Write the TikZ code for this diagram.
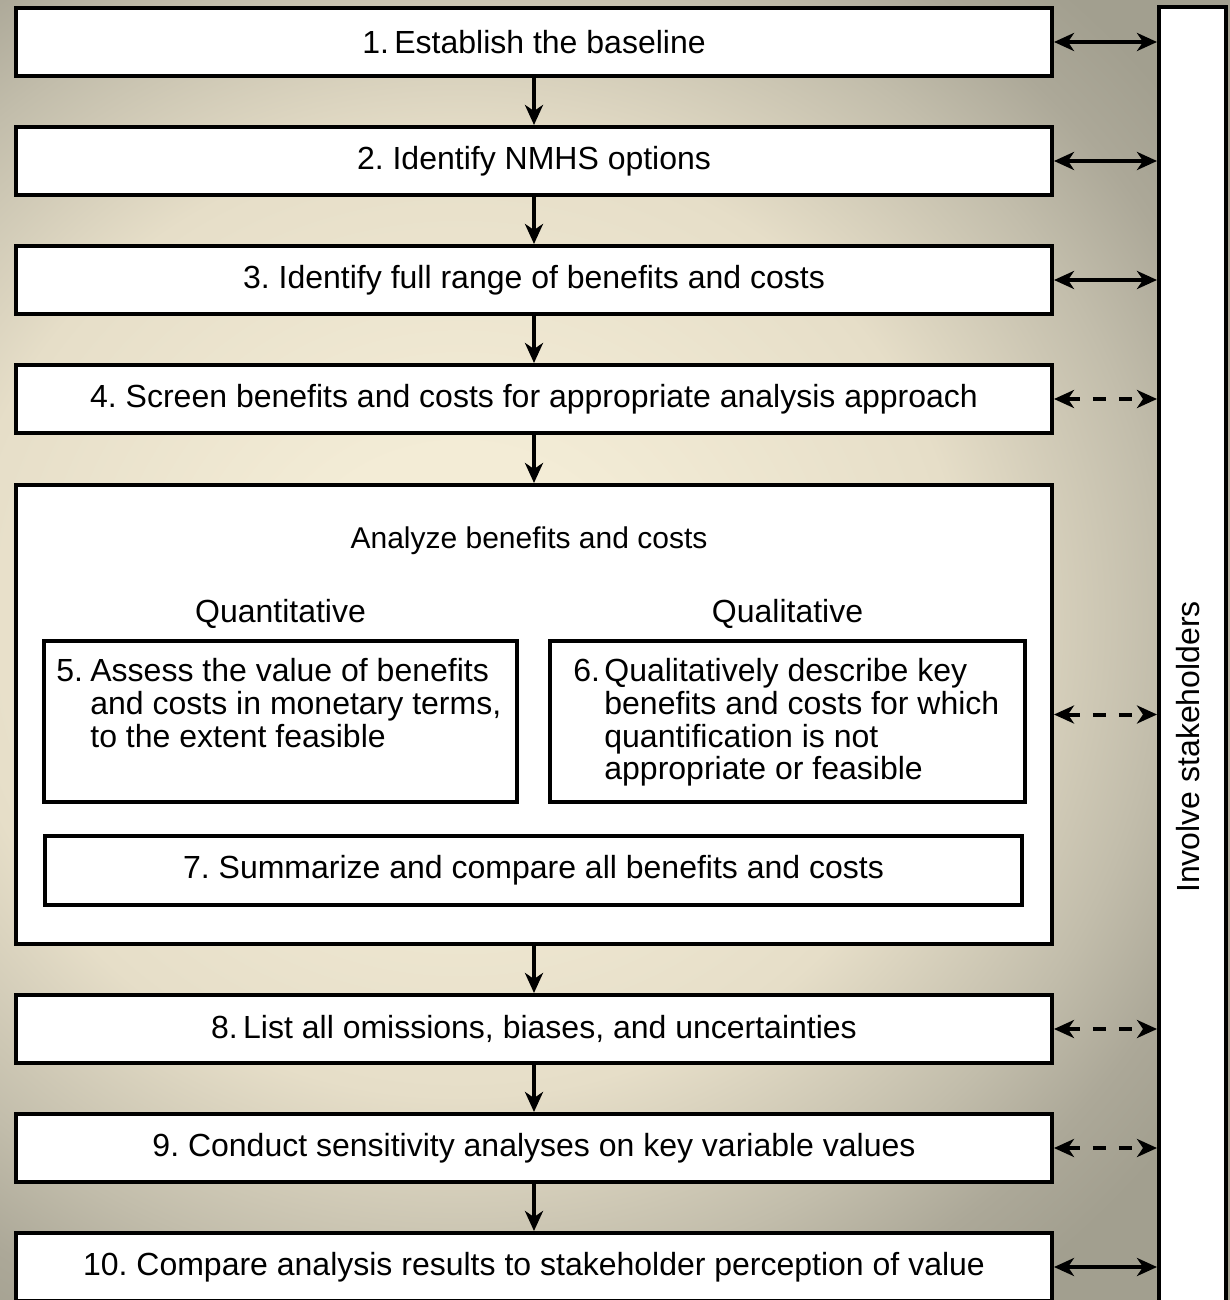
\documentclass[tikz,border=0pt]{standalone}
\usepackage{fontspec}
\setmainfont{Liberation Sans}
\usetikzlibrary{arrows.meta}

\definecolor{bgin}{HTML}{F3ECD6}
\definecolor{bgmid}{HTML}{E6DEC8}
\definecolor{bgfar}{HTML}{C2BDAB}
\definecolor{bgrim}{HTML}{ACA898}
\definecolor{bgout}{HTML}{A29F8F}
\pgfdeclareradialshading{stagebg}{\pgfpoint{0bp}{0bp}}{color(0bp)=(bgin); color(5bp)=(bgin); color(14bp)=(bgmid); color(19.5bp)=(bgfar); color(22.5bp)=(bgrim); color(25bp)=(bgout); color(50bp)=(bgout)}

\newcommand{\stagefont}{\fontsize{16pt}{16pt}\selectfont}
\frenchspacing

\begin{document}
\begin{tikzpicture}[x=0.5pt, y=-0.5pt,
    stagebox/.style={draw, line width=2pt, fill=white, minimum width=518pt, minimum height=34pt, inner sep=0pt, font=\stagefont},
    stagetext/.style={font=\stagefont, inner sep=0pt, align=left},
    flowarrow/.style={line width=2pt, -{Stealth[length=10pt, width=9pt, inset=3pt]}},
    linkarrow/.style={line width=2pt, {Stealth[length=10pt, width=9pt, inset=3pt]}-{Stealth[length=10pt, width=9pt, inset=3pt]}},
    linkdashed/.style={linkarrow, dash pattern=on 6.5pt off 6.5pt}]
    \useasboundingbox (0,0) rectangle (1230,1300);
    \clip (0,0) rectangle (1230,1300);

    % background
    \fill[bgout] (0,0) rectangle (1230,1300);
    \shade[shading=stagebg] (460,620) ellipse [x radius=450pt, y radius=425pt];

    % steps 1-4
    \node[stagebox] (s1) at (534,42) {1.\,Establish the baseline};
    \node[stagebox] (s2) at (534,161) {2. Identify NMHS options};
    \node[stagebox] (s3) at (534,280) {3. Identify full range of benefits and costs};
    \node[stagebox] (s4) at (534,399) {4. Screen benefits and costs for appropriate analysis approach};

    % analysis block
    \node[stagebox, minimum height=229.5pt] (analyze) at (534,714.5) {};
    \node[font=\fontsize{15pt}{15pt}\selectfont, anchor=base] (analyzetitle) at (529,548) {Analyze benefits and costs};
    \node[font=\stagefont, anchor=base] (quant) at (280.5,622) {Quantitative};
    \node[font=\stagefont, anchor=base] (qual) at (787.5,622) {Qualitative};
    \node[stagebox, minimum width=236.5pt, minimum height=80.5pt] (s5) at (280.5,721.5) {};
    \node[stagebox, minimum width=237.5pt, minimum height=80.5pt] (s6) at (787.5,721.5) {};
    \node[stagetext, anchor=north west] (t5) at ([xshift=7pt, yshift=-9.5pt]s5.north west)
        {\begin{tabular}{@{}p{17pt}@{}l@{}}5. & Assess the value of benefits\\ & and costs in monetary terms,\\ & to the extent feasible\end{tabular}};
    \node[stagetext, anchor=north west] (t6) at ([xshift=12.5pt, yshift=-9.5pt]s6.north west)
        {\begin{tabular}{@{}p{15.5pt}@{}l@{}}6. & Qualitatively describe key\\ & benefits and costs for which\\ & quantification is not\\ & appropriate or feasible\end{tabular}};
    \node[stagebox, minimum width=488.5pt, minimum height=34.5pt] (s7) at (533.5,870.5) {7. Summarize and compare all benefits and costs};

    % steps 8-10
    \node[stagebox] (s8) at (534,1029) {8.\,List all omissions, biases, and uncertainties};
    \node[stagebox] (s9) at (534,1148) {9. Conduct sensitivity analyses on key variable values};
    \node[stagebox] (s10) at (534,1267) {10. Compare analysis results to stakeholder perception of value};

    % stakeholders column
    \node[draw, line width=2pt, fill=white, minimum width=33.5pt, minimum height=650pt, inner sep=0pt] (party) at (1192.5,657) {};
    \node[font=\stagefont, rotate=90] (partylabel) at (1188,747) {Involve stakeholders};

    % flow
    \draw[flowarrow] (s1.south) -- (s2.north);
    \draw[flowarrow] (s2.south) -- (s3.north);
    \draw[flowarrow] (s3.south) -- (s4.north);
    \draw[flowarrow] (s4.south) -- (analyze.north);
    \draw[flowarrow] (analyze.south) -- (s8.north);
    \draw[flowarrow] (s8.south) -- (s9.north);
    \draw[flowarrow] (s9.south) -- (s10.north);

    % links to stakeholders
    \draw[linkarrow] (s1.east) -- (s1.east -| party.west);
    \draw[linkarrow] (s2.east) -- (s2.east -| party.west);
    \draw[linkarrow] (s3.east) -- (s3.east -| party.west);
    \draw[linkdashed] (s4.east) -- (s4.east -| party.west);
    \draw[linkdashed] (analyze.east) -- (analyze.east -| party.west);
    \draw[linkdashed] (s8.east) -- (s8.east -| party.west);
    \draw[linkdashed] (s9.east) -- (s9.east -| party.west);
    \draw[linkarrow] (s10.east) -- (s10.east -| party.west);
\end{tikzpicture}
\end{document}
